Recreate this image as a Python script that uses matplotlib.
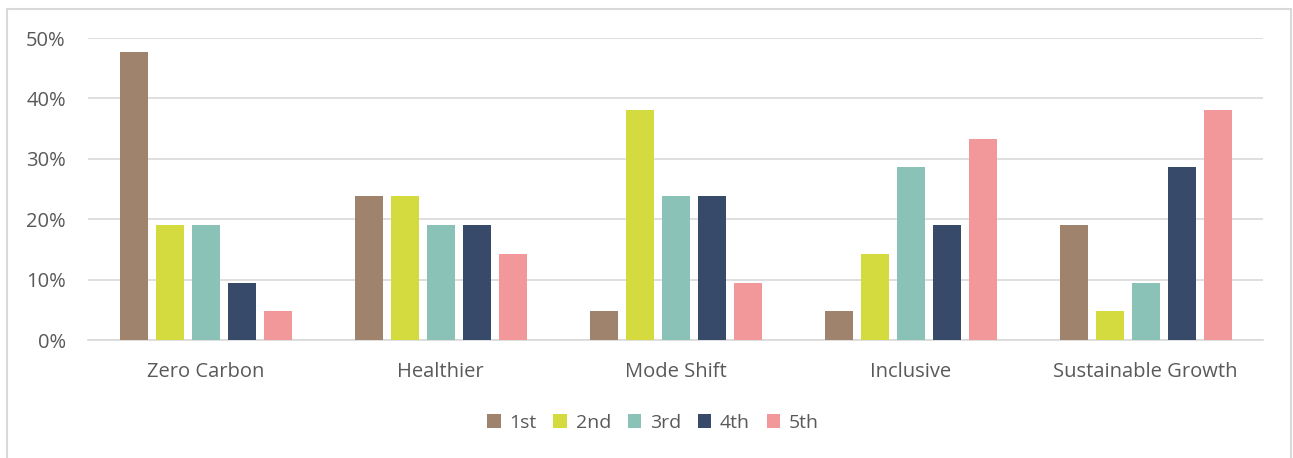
import matplotlib
matplotlib.use("Agg")
import matplotlib.pyplot as plt
import numpy as np
from matplotlib.patches import Rectangle

categories = ["Zero Carbon", "Healthier", "Mode Shift", "Inclusive", "Sustainable Growth"]
series_names = ["1st", "2nd", "3rd", "4th", "5th"]
first = [47.6, 23.8, 4.8, 4.8, 19.0]
second = [19.0, 23.8, 38.1, 14.3, 4.8]
third = [19.0, 19.0, 23.8, 28.6, 9.5]
fourth = [9.5, 19.0, 23.8, 19.0, 28.6]
fifth = [4.8, 14.3, 9.5, 33.3, 38.1]
series = [first, second, third, fourth, fifth]
colors = ["#A0836D", "#D4DB3E", "#8AC2B8", "#374A6A", "#F2989A"]
yticks = [0, 10, 20, 30, 40, 50]

plt.rcParams['font.family'] = ['Open Sans', 'DejaVu Sans']
fig = plt.figure(figsize=(12.93, 4.58), dpi=100)
W, H = 1293, 458
ax = fig.add_axes([88 / W, 1 - 340 / H, (1263 - 88) / W, (340 - 38) / H])

x = np.arange(len(categories))
step = 36 / 235
width = 28 / 235
for i, (vals, c, name) in enumerate(zip(series, colors, series_names)):
    ax.bar(x + (i - 2) * step, vals, width=width, color=c, label=name, zorder=3)

ax.set_xlim(-0.5, len(categories) - 0.5)
ax.set_ylim(0, 50)
ax.set_yticks(yticks)
ax.set_yticklabels([f"{t}%" for t in yticks])
ax.set_xticks(x)
ax.set_xticklabels(categories)
ax.grid(axis='y', color='#D9D9D9', linewidth=1.2, zorder=0)
for s in ['top', 'right', 'left']:
    ax.spines[s].set_visible(False)
ax.spines['bottom'].set_color('#D9D9D9')
ax.spines['bottom'].set_linewidth(1.2)
ax.tick_params(axis='both', length=0, labelsize=14.5, colors='#595959')
ax.tick_params(axis='y', pad=16)
ax.tick_params(axis='x', pad=16)

leg = fig.legend(loc='center', bbox_to_anchor=(653 / W, 1 - 423 / H), ncol=5, frameon=False,
                 fontsize=14, handlelength=0.7, handleheight=0.7, columnspacing=0.85,
                 handletextpad=0.45)
for t in leg.get_texts():
    t.set_color('#595959')

fig.patches.append(Rectangle((7 / W, -0.05), (1291 - 7) / W, 1 - 9 / H + 0.05,
                             transform=fig.transFigure, fill=False,
                             edgecolor='#D9D9D9', linewidth=1.5))
fig.savefig("out.png", dpi=100)
